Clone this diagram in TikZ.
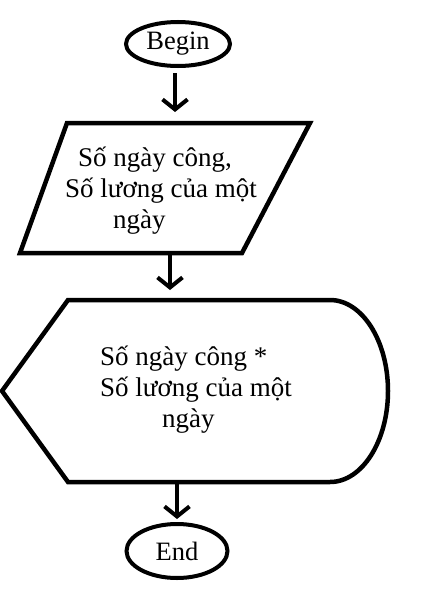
\documentclass[tikz,border=0pt]{standalone}
\usepackage{fontspec}
\setmainfont{Liberation Serif}
\usetikzlibrary{shapes.geometric,arrows.meta}

\begin{document}
\begin{tikzpicture}[x=1pt,y=-1pt]
                \tikzset{TermStyle/.style= {draw, ellipse, line width=4pt, inner sep=0pt, font=\fontsize{26.5}{30}\selectfont},
                         BoxStyle/.style= {line width=4.5pt},
                         HiddenStyle/.style= {inner sep=0pt, outer sep=0pt},
                         FlowStyle/.style= {line width=4pt, -{Straight Barb[length=10pt,width=25pt]}},
                         TextStyle/.style= {align=left, inner sep=0pt, anchor=base west, font=\fontsize{27}{31}\selectfont}}
                \useasboundingbox (0,0) rectangle (428,613);
                \node[TermStyle, minimum width=104pt, minimum height=44pt] (Begin) at (178,44) {Begin};
                \node[HiddenStyle, minimum width=175pt, minimum height=130pt] (Input) at (154.5,188) {};
                \draw[BoxStyle] (Input.north west) -- ([xshift=68pt]Input.north east)
                      -- (Input.south east) -- ([xshift=-47pt]Input.south west) -- cycle;
                \node[TextStyle] (InputText) at (65,228)
                      {\hspace*{13pt}Số ngày công,\\Số lương của một\\\hspace*{48pt}ngày};
                \node[HiddenStyle, minimum width=262pt, minimum height=182pt] (Output) at (199,391) {};
                \draw[BoxStyle] (Output.north west) -- (Output.north east)
                      arc[start angle=90, end angle=-90, x radius=58pt, y radius=91pt]
                      -- (Output.south west) -- ([xshift=-66pt]Output.west) -- cycle;
                \node[TextStyle] (OutputText) at (100,427)
                      {Số ngày công *\\Số lương của một\\\hspace*{62pt}ngày};
                \node[TermStyle, minimum width=101pt, minimum height=54pt] (End) at (177,551) {End};
                \coordinate (A1) at (175,0);
                \coordinate (A2) at (170,0);
                \coordinate (A3) at (177,0);
                \draw[FlowStyle, shorten <=5pt, shorten >=11pt] (Begin.south -| A1) -- (Input.north -| A1);
                \draw[FlowStyle, shorten >=10pt] (Input.south -| A2) -- (Output.north -| A2);
                \draw[FlowStyle, shorten >=3pt] (Output.south -| A3) -- (End.north -| A3);
            \end{tikzpicture}
\end{document}
